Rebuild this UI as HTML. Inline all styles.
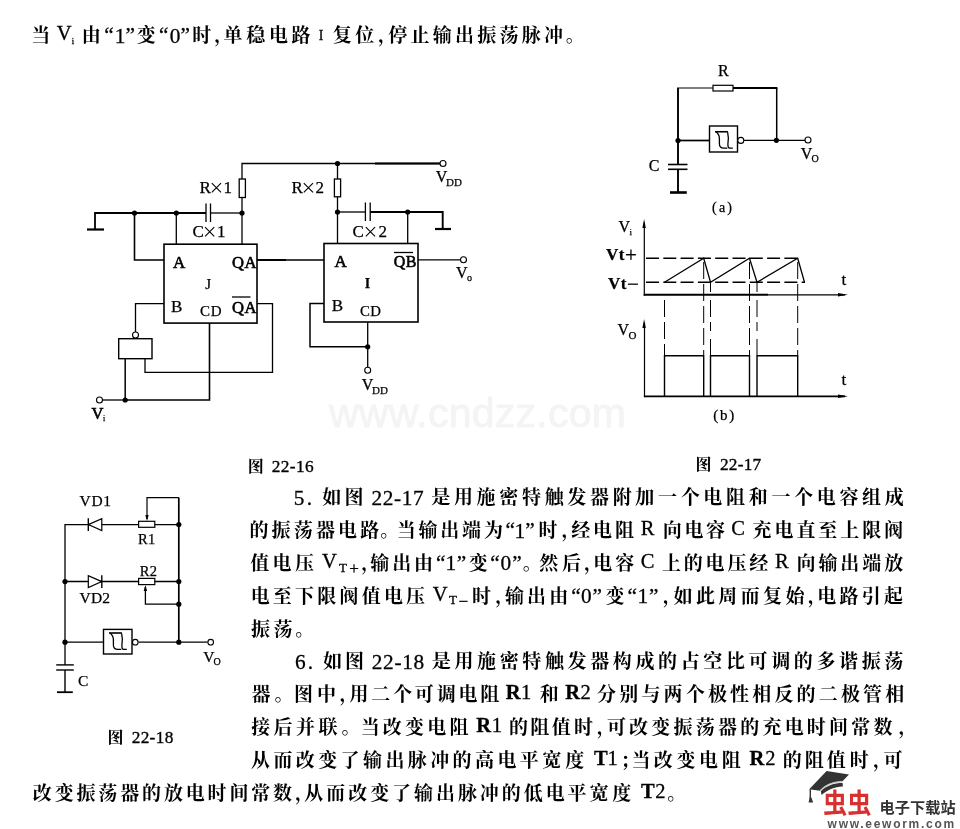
<!DOCTYPE html>
<html lang="zh"><head><meta charset="utf-8"><title>施密特触发器振荡器电路</title>
<style>
html,body{margin:0;padding:0;background:#fff}
body{width:960px;height:829px;overflow:hidden;font-family:"Liberation Serif",serif}
svg{display:block}
svg .w{fill:none;stroke:#000;stroke-linecap:butt;stroke-linejoin:miter}
svg .g text{stroke:#000;stroke-width:.3px}
svg .g text.c{font-family:"Liberation Serif","Noto Serif CJK SC",serif;font-size:19px;font-weight:bold;stroke:none}
svg .l text{stroke:#000;stroke-width:.25px}
svg .l text.m{stroke-width:.6px}
svg{will-change:transform}
</style></head><body>
<svg width="960" height="829" viewBox="0 0 960 829" font-family="Liberation Serif, serif" fill="#000">
<text x="329" y="427" font-size="41" font-family="Liberation Sans, sans-serif" fill="#f4f4f4" stroke="#f4f4f4" stroke-width=".9" textLength="297">www.cndzz.com</text>
<g class="w">
<path d="M87 229.5 L104 229.5" stroke-width="2.2"/>
<path d="M95 229.5 L95 213 L206 213" stroke-width="1.8"/>
<path d="M206 203.5 L206 222" stroke-width="1.3"/>
<path d="M210.5 203.5 L210.5 222" stroke-width="1.3"/>
<path d="M210.5 213 L242 213" stroke-width="1.3"/>
<path d="M134.5 213 L134.5 260 L164 260" stroke-width="1.6"/>
<path d="M176.3 213 L176.3 244" stroke-width="1.3"/>
<path d="M440 163.5 L242 163.5 L242 179" stroke-width="1.3"/>
<path d="M375 163.5 L440 163.5" stroke-width="1.9"/>
<rect x="239.2" y="179" width="6.2" height="18.5" fill="#fff" stroke-width="1.3"/>
<path d="M242 197.5 L242 244" stroke-width="1.3"/>
<path d="M337.5 163.5 L337.5 179" stroke-width="1.3"/>
<rect x="334.4" y="179" width="6.2" height="17.8" fill="#fff" stroke-width="1.3"/>
<path d="M337.5 196.8 L337.5 243.5" stroke-width="1.3"/>
<path d="M337.5 212 L365.4 212" stroke-width="1.3"/>
<path d="M365.4 202.5 L365.4 221" stroke-width="1.3"/>
<path d="M370.2 202.5 L370.2 221" stroke-width="1.3"/>
<path d="M370.2 212 L442.7 212 L442.7 229" stroke-width="1.9"/>
<path d="M435 229 L451 229" stroke-width="2.2"/>
<path d="M407.7 212 L407.7 243.5" stroke-width="1.3"/>
<rect x="164" y="244.2" width="93" height="78.9" fill="none" stroke-width="1.6"/>
<rect x="324" y="243.5" width="94" height="78.5" fill="none" stroke-width="1.6"/>
<path d="M257 260 L324 260" stroke-width="1.3"/>
<path d="M257 260 L286 260" stroke-width="1.9"/>
<path d="M257 303.7 L272.5 303.7 L272.5 372.4 L145 372.4 L145 358.7" stroke-width="1.3"/>
<path d="M164 303.7 L135.5 303.7 L135.5 332" stroke-width="1.3"/>
<rect x="118.7" y="338.7" width="33.3" height="20" fill="none" stroke-width="1.4"/>
<path d="M125.2 358.7 L125.2 400" stroke-width="1.5"/>
<path d="M209.5 323 L209.5 400 L124.5 400" stroke-width="1.6"/>
<path d="M124.5 400 L102.5 400" stroke-width="1.3"/>
<path d="M418 259.8 L460.5 259.8" stroke-width="1.3"/>
<path d="M324 303.4 L310 303.4 L310 346.8 L367.7 346.8" stroke-width="1.5"/>
<path d="M367.7 322 L367.7 367.3" stroke-width="1.3"/>
<path d="M232 297 L250.5 297" stroke-width="1.3"/>
<path d="M394 252.5 L413 252.5" stroke-width="1.3"/>
<circle cx="134.5" cy="213" r="2.6" fill="#000" stroke="none"/>
<circle cx="176.3" cy="213" r="2.6" fill="#000" stroke="none"/>
<circle cx="242" cy="213" r="2.6" fill="#000" stroke="none"/>
<circle cx="337.5" cy="163.5" r="2.6" fill="#000" stroke="none"/>
<circle cx="337.5" cy="212" r="2.6" fill="#000" stroke="none"/>
<circle cx="407.7" cy="212" r="2.6" fill="#000" stroke="none"/>
<circle cx="125.2" cy="400" r="2.6" fill="#000" stroke="none"/>
<circle cx="367.7" cy="346.8" r="2.6" fill="#000" stroke="none"/>
<circle cx="443" cy="163.5" r="3" fill="#fff" stroke-width="1.1"/>
<circle cx="463.5" cy="259.8" r="3" fill="#fff" stroke-width="1.1"/>
<circle cx="135.5" cy="335" r="3" fill="#fff" stroke-width="1.1"/>
<circle cx="99.5" cy="400" r="3" fill="#fff" stroke-width="1.1"/>
<circle cx="367.7" cy="370.3" r="3" fill="#fff" stroke-width="1.1"/>
<path d="M678 165 L678 88" stroke-width="1.9"/>
<path d="M677 88 L713 88" stroke-width="1.2"/>
<rect x="713" y="85.3" width="20" height="5.7" fill="#fff" stroke-width="1.2"/>
<path d="M733 88 L777.4 88" stroke-width="1.9"/>
<path d="M776.7 88 L776.7 140" stroke-width="1.5"/>
<path d="M678 140.5 L709.5 140.5" stroke-width="1.7"/>
<rect x="709.5" y="126" width="28" height="26" fill="none" stroke-width="1.4"/>
<path d="M744 140.3 L805 140.3" stroke-width="1.3"/>
<path d="M668 164.5 L687.5 164.5" stroke-width="1.6"/>
<path d="M668 169.3 L687.5 169.3" stroke-width="1.6"/>
<path d="M678 169.3 L678 192.5" stroke-width="1.9"/>
<path d="M670 192.5 L686.8 192.5" stroke-width="2.6"/>
<circle cx="678" cy="140.5" r="2.6" fill="#000" stroke="none"/>
<circle cx="776.4" cy="140.3" r="2.6" fill="#000" stroke="none"/>
<circle cx="740.8" cy="140.4" r="3" fill="#fff" stroke-width="1.1"/>
<circle cx="808" cy="140" r="3" fill="#fff" stroke-width="1.1"/>
<path d="M644.3 222.5 L644.3 295.7" stroke-width="1.2"/>
<path d="M643.7 294.8 L768 294.8" stroke-width="1.9"/>
<path d="M768 294.8 L845 294.8" stroke-width="1.2"/>
<path d="M644.5 322.5 L644.5 397.2" stroke-width="1.2"/>
<path d="M643.9 396.3 L845 396.3" stroke-width="1.8"/>
<path d="M646 258.2 L799 258.2" stroke-width="1.5" stroke-dasharray="13 4.3"/>
<path d="M646 282.3 L805 282.3" stroke-width="1.5" stroke-dasharray="13 4.3"/>
<path d="M664.5 282.3 L703.7 258.2 L710.5 282.3 L749.5 258.2 L757 282.3 L797.7 258.2 L804.5 282.3" stroke-width="1.3"/>
<path d="M664.5 300 L664.5 355" stroke-width="1" stroke-dasharray="17 5"/>
<path d="M710.5 283 L710.5 355" stroke-width="1" stroke-dasharray="9 8 17 5"/>
<path d="M757 283 L757 355" stroke-width="1" stroke-dasharray="9 8 17 5"/>
<path d="M703.7 262 L703.7 355" stroke-width="1" stroke-dasharray="17 5"/>
<path d="M749.5 262 L749.5 355" stroke-width="1" stroke-dasharray="17 5"/>
<path d="M797.7 262 L797.7 355" stroke-width="1" stroke-dasharray="17 5"/>
<path d="M664.5 396.3 L664.5 355.7 L703.7 355.7 L703.7 396.3" stroke-width="1.4"/>
<path d="M710.5 396.3 L710.5 355.7 L749.5 355.7 L749.5 396.3" stroke-width="1.4"/>
<path d="M757 396.3 L757 355.7 L797.7 355.7 L797.7 396.3" stroke-width="1.4"/>
</g>
<path d="M644.1 219 L642.4 228 L645.8 228Z M644.1 319 L642.4 328 L645.8 328Z M848 294.8 L838 293 L838 296.6Z M848 396.3 L838 394.5 L838 398.1Z" fill="#000"/>
<g class="w">
<path d="M65 664.9 L65 524.6 L178.8 524.6" stroke-width="1.3"/>
<path d="M178.8 497.6 L178.8 642" stroke-width="1.7"/>
<path d="M65 581.6 L178.8 581.6" stroke-width="1.5"/>
<path d="M65 642.2 L103.5 642.2" stroke-width="1.3"/>
<path d="M138.5 642.2 L207.7 642.2" stroke-width="1.3"/>
<path d="M147 519 L147 497.6 L178.8 497.6" stroke-width="1.2"/>
<path d="M145.4 587 L145.4 604.2 L178.8 604.2" stroke-width="1.3"/>
<rect x="138.6" y="521.3" width="16.2" height="6" fill="#fff" stroke-width="1.2"/>
<rect x="138.6" y="578.4" width="16.2" height="6.2" fill="#fff" stroke-width="1.2"/>
<rect x="103.5" y="629.4" width="28.5" height="24.6" fill="none" stroke-width="1.4"/>
<path d="M56.2 664.9 L73.8 664.9" stroke-width="1.4"/>
<path d="M56.2 670 L73.8 670" stroke-width="1.4"/>
<path d="M65 670 L65 692.2" stroke-width="1.4"/>
<path d="M57 692.2 L72.8 692.2" stroke-width="1.8"/>
<circle cx="65" cy="581.6" r="2.6" fill="#000" stroke="none"/>
<circle cx="178.8" cy="524.6" r="2.6" fill="#000" stroke="none"/>
<circle cx="178.8" cy="581.6" r="2.6" fill="#000" stroke="none"/>
<circle cx="178.8" cy="604.2" r="2.6" fill="#000" stroke="none"/>
<circle cx="178.8" cy="642.2" r="2.6" fill="#000" stroke="none"/>
<circle cx="65" cy="642.2" r="2.6" fill="#000" stroke="none"/>
<circle cx="135.3" cy="642.2" r="2.8" fill="#fff" stroke-width="1.1"/>
<circle cx="210.7" cy="642.2" r="2.8" fill="#fff" stroke-width="1.1"/>
</g>
<path d="M88.3 524.6 L101.8 518.6 L101.8 530.6Z" fill="#fff" stroke="#000" stroke-width="1.2"/>
<path d="M88.3 518.2V531" stroke="#000" stroke-width="1.4"/>
<path d="M101.8 581.6 L88.3 575.6 L88.3 587.6Z" fill="#fff" stroke="#000" stroke-width="1.2"/>
<path d="M101.8 575.2V588" stroke="#000" stroke-width="1.4"/>
<path d="M147 521 L145.3 515 L148.7 515Z M145.4 585 L143.7 591 L147.1 591Z" fill="#000"/>
<g transform="translate(715 131.75)" fill="none" stroke="#000" stroke-width="1.3"><path d="M0 0H12.9" stroke-width="1.6"/><path d="M1.2 .3C3.5 2 4.4 4 4.4 7V12C4.4 15 6.5 16.4 8.8 16.4H12.3M12.6 .3C13.7 4.5 13.4 9 12.9 12.5C12.8 14.5 13.4 16.4 14.6 16.4H17.8"/></g>
<g transform="translate(109 633)" fill="none" stroke="#000" stroke-width="1.3"><path d="M0 0H12.9" stroke-width="1.6"/><path d="M1.2 .3C3.5 2 4.4 4 4.4 7V12C4.4 15 6.5 16.4 8.8 16.4H12.3M12.6 .3C13.7 4.5 13.4 9 12.9 12.5C12.8 14.5 13.4 16.4 14.6 16.4H17.8"/></g>
<g class="l">
<text x="199.5" y="193" font-size="17">R</text>
<path d="M211.8 183.2l9.2 9.2m0 -9.2l-9.2 9.2" stroke="#000" stroke-width="1.1" fill="none"/>
<text x="232" y="193" font-size="17" text-anchor="end">1</text>
<text x="192.5" y="237" font-size="17">C</text>
<path d="M205.06 227.2l9.2 9.2m0 -9.2l-9.2 9.2" stroke="#000" stroke-width="1.1" fill="none"/>
<text x="225.5" y="237" font-size="17" text-anchor="end">1</text>
<text x="291.5" y="193" font-size="17">R</text>
<path d="M303.8 183.2l9.2 9.2m0 -9.2l-9.2 9.2" stroke="#000" stroke-width="1.1" fill="none"/>
<text x="324" y="193" font-size="17" text-anchor="end">2</text>
<text x="352.5" y="237" font-size="17">C</text>
<path d="M365.84 227.2l9.2 9.2m0 -9.2l-9.2 9.2" stroke="#000" stroke-width="1.1" fill="none"/>
<text x="387" y="237" font-size="17" text-anchor="end">2</text>
<text x="173" y="267.5" font-size="17" textLength="12.5" lengthAdjust="spacing" class="m">A</text>
<text x="232" y="267.5" font-size="16.6" textLength="24.5" lengthAdjust="spacing" class="m">QA</text>
<text x="171" y="311.8" font-size="17" textLength="9.5" lengthAdjust="spacing">B</text>
<text x="200" y="316" font-size="15" textLength="21.5" lengthAdjust="spacing">CD</text>
<text x="232" y="312.5" font-size="16.6" textLength="24.5" lengthAdjust="spacing" class="m">QA</text>
<text x="205.3" y="289" font-size="15">J</text>
<text x="334.4" y="266.5" font-size="17" textLength="11.5" lengthAdjust="spacing" class="m">A</text>
<text x="393.8" y="266.5" font-size="16" textLength="22.5" lengthAdjust="spacing" class="m">QB</text>
<text x="331.7" y="310.6" font-size="17" textLength="10" lengthAdjust="spacing">B</text>
<text x="360" y="315.6" font-size="14.8" textLength="21" lengthAdjust="spacing">CD</text>
<text x="364.8" y="288.3" font-size="14" font-weight="bold">I</text>
<text x="435.8" y="181.7" font-size="16">V</text>
<text x="446" y="185.5" font-size="11" textLength="16" lengthAdjust="spacing">DD</text>
<text x="361.7" y="389.8" font-size="16">V</text>
<text x="372" y="394" font-size="11" textLength="16" lengthAdjust="spacing">DD</text>
<text x="456" y="277.5" font-size="16">V</text>
<text x="467" y="280.5" font-size="10">o</text>
<text x="91.5" y="418.5" font-size="16.5" class="m">V</text>
<text x="103" y="421" font-size="8">i</text>
<text x="718" y="76" font-size="16">R</text>
<text x="648.8" y="170.8" font-size="16">C</text>
<text x="800.8" y="159" font-size="16">V</text>
<text x="811.5" y="162" font-size="10">O</text>
<text x="712" y="212" font-size="14" textLength="20" lengthAdjust="spacing">(a)</text>
<text x="618.4" y="232.2" font-size="16">V</text>
<text x="629.5" y="235" font-size="9">i</text>
<text x="606" y="260" font-size="17" textLength="18.5" lengthAdjust="spacing" font-weight="bold">Vt</text>
<text x="625" y="261.5" font-size="21">+</text>
<text x="608" y="289" font-size="17" textLength="18.5" lengthAdjust="spacing" font-weight="bold">Vt</text>
<text x="627" y="290.5" font-size="21">−</text>
<text x="617.6" y="335" font-size="16">V</text>
<text x="628.5" y="339" font-size="11">O</text>
<text x="841.5" y="284.5" font-size="17">t</text>
<text x="841.5" y="384.7" font-size="17">t</text>
<text x="713.2" y="420" font-size="15" textLength="21" lengthAdjust="spacing">(b)</text>
<text x="79.5" y="506.4" font-size="15.5" textLength="31.5" lengthAdjust="spacing">VD1</text>
<text x="79.5" y="603.4" font-size="15.5" textLength="30.5" lengthAdjust="spacing">VD2</text>
<text x="138" y="544.2" font-size="14.5" textLength="17.3" lengthAdjust="spacing">R1</text>
<text x="139.7" y="576.3" font-size="14.5" textLength="17.3" lengthAdjust="spacing">R2</text>
<text x="77.9" y="685.5" font-size="15.5">C</text>
<text x="203.2" y="661.5" font-size="15.5">V</text>
<text x="213.5" y="664.5" font-size="10">O</text>
</g>
<g class="g"><title>当 Vi 由“1”变“0”时，单稳电路 I 复位，停止输出振荡脉冲。</title>
<text class="c" x="31.16" y="42.35">当</text>
<text x="56.75" y="40.35" font-size="20.5">V</text>
<text x="71.86" y="44.35" font-size="8.5">i</text>
<text class="c" x="81.87" y="42.35">由</text>
<text x="104.2" y="42.35" font-size="21.3">“</text>
<text x="114.64" y="42.75" font-size="21.3">1</text>
<text x="125.4" y="42.35" font-size="21.3">”</text>
<text class="c" x="136.76" y="42.35">变</text>
<text x="159.1" y="42.35" font-size="21.3">“</text>
<text x="169.82" y="42.75" font-size="21.3">0</text>
<text x="180.5" y="42.35" font-size="21.3">”</text>
<text class="c" x="192.27 214.21 223.57 246.23 268.9 291.56" y="42.35">时，单稳电路</text>
<text x="318.83" y="40.35" font-size="13.67">I</text>
<text class="c" x="332.8 355.23 377.99 388.17 410.42 432.67 454.93 477.18 499.43 521.68 543.94 565.74" y="42.35">复位，停止输出振荡脉冲。</text>
</g>
<g class="g"><title>5. 如图 22-17 是用施密特触发器附加一个电阻和一个电容组成</title>
<text x="293.84 306.85" y="504.7" font-size="21.3">5.</text>
<text class="c" x="322.14 344.52" y="504.3">如图</text>
<text x="371.38 382.67 393.95 401.68 412.96" y="504.7" font-size="21.3">22-17</text>
<text class="c" x="431.25 453.93 476.6 499.28 521.95 544.63 567.3 589.98 612.65 635.33 658 680.68 703.35 726.03 748.7 771.38 794.05 816.73 839.41 862.08 884.76" y="504.3">是用施密特触发器附加一个电阻和一个电容组成</text>
</g>
<g class="g"><title>的振荡器电路。当输出端为“1”时，经电阻 R 向电容 C 充电直至上限阀</title>
<text class="c" x="249.43 271.59 293.76 315.92 338.09 360.25 380.35" y="537.11">的振荡器电路。</text>
<text class="c" x="396.75 418.54 440.32 462.11 483.89" y="537.11">当输出端为</text>
<text x="505.5" y="537.11" font-size="21.3">“</text>
<text x="514.52" y="537.51" font-size="21.3">1</text>
<text x="525.2" y="537.11" font-size="21.3">”</text>
<text class="c" x="538.42 561.5 571.2 593.07 614.95" y="537.11">时，经电阻</text>
<text x="640.8" y="535.11" font-size="20.5">R</text>
<text class="c" x="662.78 684.39 706" y="537.11">向电容</text>
<text x="731.17" y="535.11" font-size="20.5">C</text>
<text class="c" x="752.5 774.44 796.38 818.33 840.27 862.22 884.16" y="537.11">充电直至上限阀</text>
</g>
<g class="g"><title>值电压 VT+，输出由“1”变“0”。然后，电容 C 上的电压经 R 向输出端放</title>
<text class="c" x="250.31 272.61 294.92" y="569.92">值电压</text>
<text x="321.98" y="567.92" font-size="20.5">V</text>
<text x="338.99" y="571.52" font-size="13">T</text>
<text x="349.15" y="573.92" font-size="17">+</text>
<text class="c" x="361.2 370.3 392.19 414.08" y="569.92">，输出由</text>
<text x="436" y="569.92" font-size="21.3">“</text>
<text x="445.48" y="570.32" font-size="21.3">1</text>
<text x="456.7" y="569.92" font-size="21.3">”</text>
<text class="c" x="468.63" y="569.92">变</text>
<text x="490.3" y="569.92" font-size="21.3">“</text>
<text x="500.38" y="570.32" font-size="21.3">0</text>
<text x="512.2" y="569.92" font-size="21.3">”</text>
<text class="c" x="522.78 539.28 561.99 584.09 593.27 615.13" y="569.92">。然后，电容</text>
<text x="640.65" y="567.92" font-size="20.5">C</text>
<text class="c" x="661.89 683.75 705.62 727.49 749.36" y="569.92">上的电压经</text>
<text x="774.97" y="567.92" font-size="20.5">R</text>
<text class="c" x="796.47 818.42 840.34 862.26 884.18" y="569.92">向输出端放</text>
</g>
<g class="g"><title>电至下限阀值电压 VT−时，输出由“0”变“1”，如此周而复始，电路引起</title>
<text class="c" x="250.65 272.85 295.06 317.27 339.48 361.69 383.9 406.11" y="602.73">电至下限阀值电压</text>
<text x="432.69" y="600.73" font-size="20.5">V</text>
<text x="449.03" y="604.33" font-size="13">T</text>
<text x="458.5" y="606.73" font-size="17">−</text>
<text class="c" x="471.9 495.35 504.99 527.07 549.14" y="602.73">时，输出由</text>
<text x="571.3" y="602.73" font-size="21.3">“</text>
<text x="581.11" y="603.13" font-size="21.3">0</text>
<text x="592.6" y="602.73" font-size="21.3">”</text>
<text class="c" x="605.43" y="602.73">变</text>
<text x="627.6" y="602.73" font-size="21.3">“</text>
<text x="637.44" y="603.13" font-size="21.3">1</text>
<text x="648.9" y="602.73" font-size="21.3">”</text>
<text class="c" x="662.8 673.55 695.93 718.31 740.69 763.07 785.45 807.69 817.36 839.59 861.82 884.05" y="602.73">，如此周而复始，电路引起</text>
</g>
<g class="g"><title>振荡。</title>
<text class="c" x="251.11 273.46 295.18" y="635.54">振荡。</text>
</g>
<g class="g"><title>6. 如图 22-18 是用施密特触发器构成的占空比可调的多谐振荡</title>
<text x="294.91 307.81" y="668.75" font-size="21.3">6.</text>
<text class="c" x="322.89 345.12" y="668.35">如图</text>
<text x="371.71 383.04 394.38 402.15 413.49" y="668.75" font-size="21.3">22-18</text>
<text class="c" x="431.83 454.45 477.08 499.7 522.32 544.95 567.57 590.19 612.82 635.44 658.07 680.69 703.31 725.94 748.56 771.18 793.81 816.43 839.06 861.68 884.3" y="668.35">是用施密特触发器构成的占空比可调的多谐振荡</text>
</g>
<g class="g"><title>器。图中，用二个可调电阻 R1 和 R2 分别与两个极性相反的二极管相</title>
<text class="c" x="251.42 274.38 293.94 316.95 339.61 349.38 371.21 393.04 414.87 436.7 458.53 480.36" y="701.16">器。图中，用二个可调电阻</text>
<text x="505.82" y="699.16" font-size="20.5" font-weight="bold">R</text>
<text x="521.12" y="699.16" font-size="20.5">1</text>
<text class="c" x="539.71" y="701.16">和</text>
<text x="565.27" y="699.16" font-size="20.5" font-weight="bold">R</text>
<text x="580.46" y="699.16" font-size="20.5">2</text>
<text class="c" x="597.12 619.29 641.45 663.61 685.77 707.93 730.1 752.26 774.42 796.58 818.75 840.91 863.07 885.23" y="701.16">分别与两个极性相反的二极管相</text>
</g>
<g class="g"><title>接后并联。当改变电阻 R1 的阻值时，可改变振荡器的充电时间常数，</title>
<text class="c" x="251.16 273.58 296 318.42 341.55 360.83 382.82 405.06 427.3 449.54" y="733.97">接后并联。当改变电阻</text>
<text x="476.32" y="731.97" font-size="20.5" font-weight="bold">R</text>
<text x="491.84" y="731.97" font-size="20.5">1</text>
<text class="c" x="508.95 530.35 551.75 573.95 596.86 606.88 629.1 651.32 673.54 695.76 717.98 740.21 762.43 784.65 806.87 829.09 851.31 873.53 898.46" y="733.97">的阻值时，可改变振荡器的充电时间常数，</text>
</g>
<g class="g"><title>从而改变了输出脉冲的高电平宽度 T1；当改变电阻 R2 的阻值时，可</title>
<text class="c" x="251.01 273.4 295.8 318.2 340.6 363 385.4 407.8 430.19 452.59 474.99 497.39 519.79 542.19 565.2" y="766.78">从而改变了输出脉冲的高电平宽度</text>
<text x="593.9" y="764.78" font-size="20.5" font-weight="bold">T</text>
<text x="607.53" y="764.78" font-size="20.5">1</text>
<text class="c" x="620.56 631.53 653.73 676.39 699.05 721.71" y="766.78">；当改变电阻</text>
<text x="749.42" y="764.78" font-size="20.5" font-weight="bold">R</text>
<text x="765.24" y="764.78" font-size="20.5">2</text>
<text class="c" x="782.68 804.75 826.82 849.85 873.06 883.49" y="766.78">的阻值时，可</text>
</g>
<g class="g"><title>改变振荡器的放电时间常数，从而改变了输出脉冲的低电平宽度 T2。</title>
<text class="c" x="32.82 54.66 76.51 98.36 120.2 142.05 163.89 185.74 207.58 229.43 251.27 273.12 294.97 304.37 326.31 348.24 370.18 392.11 414.05 435.98 457.91 479.85 501.78 523.72 545.65 567.59 589.52 612.25" y="799.59">改变振荡器的放电时间常数，从而改变了输出脉冲的低电平宽度</text>
<text x="640.95" y="797.59" font-size="20.5" font-weight="bold">T</text>
<text x="655.27" y="797.59" font-size="20.5">2</text>
<text class="c" x="667.34" y="799.59">。</text>
</g>
<g class="g"><title>图 22-16</title><text class="c" x="247.63" y="472.37" style="font-size:16px">图</text>
<text x="271.8" y="472.1" font-size="17.3" textLength="41.8" style="stroke-width:.35px">22-16</text></g>
<g class="g"><title>图 22-17</title><text class="c" x="695.43" y="470.37" style="font-size:16px">图</text>
<text x="719.9" y="470.4" font-size="17.3" textLength="41.3" style="stroke-width:.35px">22-17</text></g>
<g class="g"><title>图 22-18</title><text class="c" x="107.43" y="743.12" style="font-size:16px">图</text>
<text x="131.7" y="742.7" font-size="17.3" textLength="41.6" style="stroke-width:.35px">22-18</text></g>
<g><title>虫虫 电子下载站 www.eeworm.com</title>
<path d="M826.6 771L849 774.4L842.5 781.2C834 781 826 784.5 820 790.8L809.2 789.2Z" fill="#333"/>
<path d="M820.3 790.4C826 784.6 834 781.6 842.4 781.9" fill="none" stroke="#c8c8c8" stroke-width="1.2"/>
<path d="M820.8 791.2C826.5 785.6 834 783 842.6 783L842.9 786.5C834.5 787 827 790 821.6 795Z" fill="#333"/>
<path d="M810.3 789.3V799" fill="none" stroke="#333" stroke-width="1.4"/><path d="M809.6 797.5H811.4L813.2 802.4H808.6Z" fill="#333"/>
<text x="823" y="812.5" font-size="27" font-weight="bold" font-family="Liberation Sans, Noto Sans CJK SC, sans-serif" fill="#d8302f" textLength="48.5" lengthAdjust="spacingAndGlyphs">虫虫</text>
<text x="879.4" y="812.6" font-size="15.2" font-weight="bold" font-family="Liberation Sans, Noto Sans CJK SC, sans-serif" fill="#333" textLength="76.4">电子下载站</text>
<text x="827.6" y="827.6" font-size="12" font-weight="bold" font-family="Liberation Sans, sans-serif" fill="#555" textLength="126.5">www.eeworm.com</text>
</g>
</svg>
</body></html>
